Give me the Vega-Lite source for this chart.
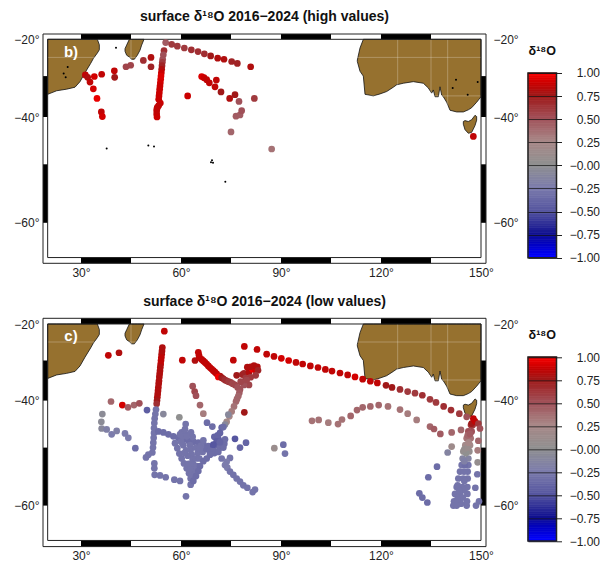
{"$schema":"https://vega.github.io/schema/vega-lite/v6.json","padding":{"left":13,"top":10,"right":0,"bottom":0},"background":"white","config":{"view":{"stroke":null},"font":"Liberation Sans"},
"datasets":{
"land":[
{"name":"af","lon":20,"lat":-34.6,"lat2":-20},{"name":"af","lon":22.7,"lat":-33.7,"lat2":-20},{"name":"af","lon":25.7,"lat":-33.3,"lat2":-20},{"name":"af","lon":28.2,"lat":-32.8,"lat2":-20},{"name":"af","lon":29.7,"lat":-31.4,"lat2":-20},{"name":"af","lon":31.2,"lat":-29.1,"lat2":-20},{"name":"af","lon":32.9,"lat":-26.6,"lat2":-20},{"name":"af","lon":33.7,"lat":-25.3,"lat2":-20},{"name":"af","lon":34.9,"lat":-23.8,"lat2":-20},{"name":"af","lon":35.5,"lat":-22.9,"lat2":-21.5},
{"name":"mg","lon":43.2,"lat":-23.3,"lat2":-22.6},{"name":"mg","lon":43.7,"lat":-24.4,"lat2":-21.6},{"name":"mg","lon":44.5,"lat":-24.9,"lat2":-20},{"name":"mg","lon":45.2,"lat":-25.5,"lat2":-20},{"name":"mg","lon":46,"lat":-25.5,"lat2":-20},{"name":"mg","lon":46.9,"lat":-24.4,"lat2":-20},{"name":"mg","lon":47.7,"lat":-23,"lat2":-20},{"name":"mg","lon":48.2,"lat":-21.6,"lat2":-20},{"name":"mg","lon":48.9,"lat":-20,"lat2":-20},
{"name":"au","lon":112.9,"lat":-26.1,"lat2":-25.7},{"name":"au","lon":113.7,"lat":-28.7,"lat2":-22.4},{"name":"au","lon":114.7,"lat":-30,"lat2":-20},{"name":"au","lon":115.2,"lat":-34.6,"lat2":-20},{"name":"au","lon":117.7,"lat":-35,"lat2":-20},{"name":"au","lon":119.7,"lat":-34.5,"lat2":-20},{"name":"au","lon":121.7,"lat":-33.9,"lat2":-20},{"name":"au","lon":123.7,"lat":-32.8,"lat2":-20},{"name":"au","lon":124.7,"lat":-32.2,"lat2":-20},{"name":"au","lon":126.7,"lat":-31.8,"lat2":-20},{"name":"au","lon":129.7,"lat":-31.4,"lat2":-20},{"name":"au","lon":132.7,"lat":-31.8,"lat2":-20},{"name":"au","lon":134.2,"lat":-33,"lat2":-20},{"name":"au","lon":135.2,"lat":-34.3,"lat2":-20},{"name":"au","lon":135.7,"lat":-33.5,"lat2":-20},{"name":"au","lon":136.2,"lat":-35.2,"lat2":-20},{"name":"au","lon":137.2,"lat":-35.2,"lat2":-20},{"name":"au","lon":137.7,"lat":-32.7,"lat2":-20},{"name":"au","lon":138.2,"lat":-34.8,"lat2":-20},{"name":"au","lon":138.7,"lat":-35.2,"lat2":-20},{"name":"au","lon":139.7,"lat":-36.5,"lat2":-20},{"name":"au","lon":140.7,"lat":-38.4,"lat2":-20},{"name":"au","lon":142.7,"lat":-38.8,"lat2":-20},{"name":"au","lon":144.7,"lat":-38.8,"lat2":-20},{"name":"au","lon":146.2,"lat":-38.3,"lat2":-20},{"name":"au","lon":147.2,"lat":-37.8,"lat2":-20},{"name":"au","lon":148.7,"lat":-36.5,"lat2":-20},{"name":"au","lon":150,"lat":-35.2,"lat2":-20},
{"name":"ta","lon":144.7,"lat":-41.6,"lat2":-41},{"name":"ta","lon":145.2,"lat":-42.8,"lat2":-40.8},{"name":"ta","lon":146.2,"lat":-43.6,"lat2":-41},{"name":"ta","lon":147.2,"lat":-43.4,"lat2":-40.6},{"name":"ta","lon":148.2,"lat":-41.9,"lat2":-39.6},{"name":"ta","lon":148.7,"lat":-40.7,"lat2":-39.9}],
"grid":[{"lon":45,"lat":-20,"lon2":45,"lat2":-64.8},{"lon":125,"lat":-20,"lon2":125,"lat2":-64.8},{"lon":135,"lat":-20,"lon2":135,"lat2":-64.8},{"lon":140,"lat":-20,"lon2":140,"lat2":-64.8},{"lon":20,"lat":-25,"lon2":150,"lat2":-25},{"lon":20,"lat":-35,"lon2":150,"lat2":-35}],
"bands":[{"lon":30,"lon2":45,"lat":-20,"lat2":-18.5},{"lon":60,"lon2":75,"lat":-20,"lat2":-18.5},{"lon":90,"lon2":105,"lat":-20,"lat2":-18.5},{"lon":120,"lon2":135,"lat":-20,"lat2":-18.5},{"lon":30,"lon2":45,"lat":-65.6,"lat2":-64.8},{"lon":60,"lon2":75,"lat":-65.6,"lat2":-64.8},{"lon":90,"lon2":105,"lat":-65.6,"lat2":-64.8},{"lon":120,"lon2":135,"lat":-65.6,"lat2":-64.8},{"lon":18.6,"lon2":20,"lat":-30,"lat2":-40},{"lon":18.6,"lon2":20,"lat":-50,"lat2":-60},{"lon":150,"lon2":151.5,"lat":-30,"lat2":-40},{"lon":150,"lon2":151.5,"lat":-50,"lat2":-60}],
"frames":[{"lon":20,"lon2":150,"lat":-64.8,"lat2":-20},{"lon":18.6,"lon2":151.5,"lat":-65.6,"lat2":-18.5}],
"isles":[{"lon":37.7,"lat":-46.8},{"lon":50.2,"lat":-46.2},{"lon":51.9,"lat":-46.4},{"lon":73.3,"lat":-53.2},{"lon":40.5,"lat":-22.3},{"lon":26,"lat":-27.6},{"lon":24.8,"lat":-29.3},{"lon":25.4,"lat":-30.3},{"lon":69.3,"lat":-49.2},{"lon":69.0,"lat":-49.6},{"lon":69.6,"lat":-49.7},{"lon":142.5,"lat":-30.9},{"lon":141.5,"lat":-33},{"lon":146,"lat":-34.7},{"lon":149,"lat":-31.5}],
"high":[
{"lon":55.4,"lat":-20.9,"d":0.45},{"lon":57.2,"lat":-21.4,"d":0.6},{"lon":58.9,"lat":-21.9,"d":0.6},{"lon":61,"lat":-22.4,"d":0.6},{"lon":63.1,"lat":-22.9,"d":0.65},{"lon":65.1,"lat":-23.4,"d":0.65},{"lon":67,"lat":-24,"d":0.65},{"lon":68.9,"lat":-24.6,"d":0.75},{"lon":71,"lat":-25.2,"d":0.8},{"lon":72.9,"lat":-25.5,"d":0.8},{"lon":75.2,"lat":-26.1,"d":0.7},{"lon":76.9,"lat":-26.6,"d":0.7},{"lon":80.9,"lat":-27.5,"d":0.8},
{"lon":31.3,"lat":-29.7,"d":0.85},{"lon":32,"lat":-30.3,"d":0.8},{"lon":32.7,"lat":-31.5,"d":0.85},{"lon":34,"lat":-30.1,"d":0.9},{"lon":36.2,"lat":-29.5,"d":0.85},{"lon":40,"lat":-28.6,"d":0.85},{"lon":40.1,"lat":-30.3,"d":0.75},{"lon":33.7,"lat":-33.2,"d":0.9},{"lon":34.8,"lat":-35.6,"d":0.95},{"lon":36.1,"lat":-38.8,"d":0.85},{"lon":36.4,"lat":-39.9,"d":0.9},
{"lon":43.5,"lat":-27.5,"d":0.55},{"lon":44.9,"lat":-27.1,"d":0.55},{"lon":48.7,"lat":-25.8,"d":0.65},{"lon":51,"lat":-25,"d":0.8},{"lon":51,"lat":-27.5,"d":0.7},
{"lon":54.9,"lat":-23.1,"d":0.65},{"lon":54.7,"lat":-24.3,"d":0.5},{"lon":54.5,"lat":-25.5,"d":0.5},{"lon":54.4,"lat":-26.3,"d":0.6},{"lon":54.3,"lat":-27.2,"d":0.7},{"lon":54.2,"lat":-28.2,"d":0.8},{"lon":54.1,"lat":-29.1,"d":0.88},{"lon":54,"lat":-30,"d":0.92},{"lon":53.9,"lat":-30.8,"d":0.92},{"lon":53.8,"lat":-31.7,"d":0.9},{"lon":53.7,"lat":-32.5,"d":0.88},{"lon":53.6,"lat":-33.3,"d":0.88},{"lon":53.5,"lat":-34.2,"d":0.88},{"lon":53.4,"lat":-35,"d":0.88},{"lon":53.3,"lat":-35.8,"d":0.88},{"lon":53.8,"lat":-36.7,"d":0.88},{"lon":52.9,"lat":-37.7,"d":0.85},{"lon":52.7,"lat":-38.5,"d":0.85},{"lon":52.7,"lat":-39.3,"d":0.85},{"lon":52.8,"lat":-40,"d":0.88},{"lon":53.3,"lat":-37.3,"d":0.85},{"lon":52.8,"lat":-38,"d":0.85},
{"lon":62,"lat":-35,"d":0.88},{"lon":66.2,"lat":-30.1,"d":0.92},{"lon":66.9,"lat":-30.4,"d":0.88},{"lon":67.7,"lat":-30.9,"d":0.85},{"lon":68.5,"lat":-31.7,"d":0.85},{"lon":70.6,"lat":-31,"d":0.85},{"lon":70.2,"lat":-32.7,"d":0.85},{"lon":72,"lat":-34,"d":0.75},{"lon":74.6,"lat":-35.6,"d":0.8},{"lon":76.2,"lat":-34.7,"d":0.75},{"lon":82,"lat":-35.6,"d":0.6},{"lon":75,"lat":-43.3,"d":0.4},{"lon":87.2,"lat":-46.9,"d":0.35},{"lon":77.4,"lat":-36.3,"d":0.5},{"lon":76.5,"lat":-39.8,"d":0.45},{"lon":77.7,"lat":-39.5,"d":0.45},{"lon":78.2,"lat":-38.5,"d":0.5},{"lon":147.7,"lat":-44.3,"d":0.85}],
"low":[
{"lon":55,"lat":-22,"d":0.85},{"lon":38.2,"lat":-28.6,"d":0.85},{"lon":41.4,"lat":-27.9,"d":0.8},
{"lon":54.4,"lat":-26.5,"d":0.8},{"lon":54.3,"lat":-27.4,"d":0.8},{"lon":54.2,"lat":-28.3,"d":0.8},{"lon":54.1,"lat":-29.2,"d":0.85},{"lon":54,"lat":-30,"d":0.85},{"lon":53.9,"lat":-30.9,"d":0.85},{"lon":53.8,"lat":-31.7,"d":0.8},{"lon":53.7,"lat":-32.6,"d":0.8},{"lon":53.6,"lat":-33.4,"d":0.8},{"lon":53.5,"lat":-34.2,"d":0.8},{"lon":53.4,"lat":-35.2,"d":0.8},{"lon":53.3,"lat":-35.9,"d":0.8},{"lon":53.2,"lat":-36.8,"d":0.8},{"lon":53.1,"lat":-37.6,"d":0.8},{"lon":53,"lat":-38.4,"d":0.8},{"lon":52.9,"lat":-39.2,"d":0.8},{"lon":52.8,"lat":-40,"d":0.75},{"lon":52.7,"lat":-40.7,"d":0.65},
{"lon":52.5,"lat":-42,"d":-0.3},{"lon":52.3,"lat":-43,"d":-0.3},{"lon":52.1,"lat":-44,"d":-0.3},{"lon":52,"lat":-45,"d":-0.3},{"lon":51.9,"lat":-46,"d":-0.3},{"lon":51.9,"lat":-47,"d":-0.3},{"lon":51.8,"lat":-48,"d":-0.3},{"lon":51.7,"lat":-49,"d":-0.3},{"lon":51.6,"lat":-50,"d":-0.3},{"lon":51.4,"lat":-50.9,"d":-0.3},{"lon":50.2,"lat":-51.3,"d":-0.3},{"lon":49.5,"lat":-51.8,"d":-0.3},{"lon":52,"lat":-52.9,"d":-0.3},{"lon":52,"lat":-53.8,"d":-0.3},{"lon":52.1,"lat":-55,"d":-0.3},{"lon":53.7,"lat":-55.1,"d":-0.3},{"lon":55.4,"lat":-55.4,"d":-0.3},{"lon":58,"lat":-55.8,"d":-0.3},{"lon":59.7,"lat":-56,"d":-0.3},{"lon":62.9,"lat":-56.6,"d":-0.3},{"lon":61.5,"lat":-58.5,"d":-0.3},
{"lon":53.2,"lat":-46.7,"d":-0.35},{"lon":54.7,"lat":-46.9,"d":-0.35},{"lon":56.2,"lat":-47.3,"d":-0.35},{"lon":57.7,"lat":-47.7,"d":-0.35},{"lon":59.2,"lat":-48,"d":-0.35},{"lon":60.7,"lat":-48.3,"d":-0.35},{"lon":62.2,"lat":-48.6,"d":-0.35},{"lon":63.7,"lat":-48.8,"d":-0.35},{"lon":65.2,"lat":-49,"d":-0.35},{"lon":66.7,"lat":-49.3,"d":-0.35},{"lon":68.2,"lat":-49.7,"d":-0.35},{"lon":69.7,"lat":-49.9,"d":-0.45},
{"lon":58.2,"lat":-49.1,"d":-0.3},{"lon":58.9,"lat":-50.1,"d":-0.3},{"lon":59.5,"lat":-51.1,"d":-0.3},{"lon":60.2,"lat":-52,"d":-0.3},{"lon":60.9,"lat":-52.9,"d":-0.3},{"lon":61.7,"lat":-53.8,"d":-0.3},{"lon":62.4,"lat":-54.7,"d":-0.3},{"lon":62.9,"lat":-55.6,"d":-0.3},
{"lon":62.7,"lat":-49.5,"d":-0.3},{"lon":62.9,"lat":-50.4,"d":-0.3},{"lon":63.2,"lat":-51.3,"d":-0.3},{"lon":63.5,"lat":-52.2,"d":-0.3},{"lon":63.7,"lat":-53.1,"d":-0.3},{"lon":63.9,"lat":-54,"d":-0.3},
{"lon":60.7,"lat":-49.5,"d":-0.3},{"lon":61.5,"lat":-50.5,"d":-0.3},{"lon":62,"lat":-51.5,"d":-0.3},{"lon":61,"lat":-51,"d":-0.3},{"lon":60,"lat":-48.8,"d":-0.3},{"lon":64.5,"lat":-50,"d":-0.3},{"lon":65,"lat":-51,"d":-0.3},{"lon":64.5,"lat":-52,"d":-0.3},{"lon":65.5,"lat":-52,"d":-0.3},{"lon":66.5,"lat":-50.8,"d":-0.3},{"lon":67.5,"lat":-50.2,"d":-0.35},{"lon":68.5,"lat":-50.6,"d":-0.35},{"lon":70,"lat":-51,"d":-0.35},{"lon":62.3,"lat":-53,"d":-0.3},{"lon":62.8,"lat":-54,"d":-0.3},{"lon":63,"lat":-55,"d":-0.3},{"lon":64,"lat":-55,"d":-0.3},{"lon":64.7,"lat":-53.4,"d":-0.3},{"lon":61,"lat":-46.8,"d":-0.3},{"lon":62,"lat":-47.4,"d":-0.3},{"lon":63.5,"lat":-47.8,"d":-0.3},{"lon":66,"lat":-49.6,"d":-0.3},{"lon":70,"lat":-47.8,"d":-0.4},{"lon":71,"lat":-47.5,"d":-0.4},{"lon":72,"lat":-48.8,"d":-0.4},{"lon":73,"lat":-49.2,"d":-0.35},
{"lon":72.2,"lat":-45.9,"d":-0.4},{"lon":71.7,"lat":-47,"d":-0.4},{"lon":71.2,"lat":-48.2,"d":-0.4},{"lon":70.7,"lat":-49.5,"d":-0.4},{"lon":69.7,"lat":-50.4,"d":-0.35},{"lon":68.7,"lat":-51.3,"d":-0.35},{"lon":67.7,"lat":-52,"d":-0.35},{"lon":66.7,"lat":-52.5,"d":-0.35},{"lon":65.7,"lat":-53.4,"d":-0.35},{"lon":65.2,"lat":-54.3,"d":-0.35},{"lon":64.5,"lat":-55.2,"d":-0.35},{"lon":63.7,"lat":-56,"d":-0.35},
{"lon":60.2,"lat":-46.9,"d":-0.3},{"lon":61.2,"lat":-46.2,"d":-0.3},{"lon":63,"lat":-46.9,"d":-0.3},{"lon":59.7,"lat":-47.3,"d":-0.3},{"lon":60.5,"lat":-47.7,"d":-0.3},{"lon":61.7,"lat":-47.7,"d":-0.3},{"lon":65.7,"lat":-50.1,"d":-0.3},{"lon":66.7,"lat":-48.5,"d":-0.3},{"lon":71.7,"lat":-50,"d":-0.35},{"lon":72.7,"lat":-50,"d":-0.35},{"lon":73.2,"lat":-48.3,"d":-0.35},{"lon":70.7,"lat":-48.7,"d":-0.45},{"lon":69.7,"lat":-49.4,"d":-0.5},{"lon":71.7,"lat":-48.9,"d":-0.4},{"lon":71.2,"lat":-50.8,"d":-0.35},
{"lon":72.2,"lat":-52,"d":-0.3},{"lon":74.7,"lat":-51.9,"d":-0.3},{"lon":73.7,"lat":-52.6,"d":-0.25},{"lon":73.2,"lat":-53.2,"d":-0.25},{"lon":73.9,"lat":-53.7,"d":-0.25},{"lon":74.7,"lat":-54.4,"d":-0.3},{"lon":75.7,"lat":-55,"d":-0.3},{"lon":76.7,"lat":-55.6,"d":-0.3},{"lon":77.7,"lat":-56.1,"d":-0.3},{"lon":78.7,"lat":-56.7,"d":-0.3},{"lon":79.9,"lat":-57.1,"d":-0.3},{"lon":82.2,"lat":-57.4,"d":-0.3},{"lon":81.5,"lat":-57.8,"d":-0.3},
{"lon":76.2,"lat":-48.2,"d":-0.5},{"lon":77.7,"lat":-50,"d":-0.4},{"lon":79.5,"lat":-49,"d":-0.4},{"lon":90.7,"lat":-49.4,"d":-0.35},{"lon":91.2,"lat":-51.1,"d":-0.3},{"lon":88,"lat":-50.1,"d":0.1},{"lon":79,"lat":-42.6,"d":0.75},
{"lon":49.8,"lat":-42.1,"d":-0.45},{"lon":54.7,"lat":-43,"d":-0.1},{"lon":59.5,"lat":-43.7,"d":0},{"lon":61.4,"lat":-45.2,"d":-0.3},{"lon":67.8,"lat":-44.9,"d":-0.35},{"lon":69.4,"lat":-45.7,"d":-0.35},
{"lon":36.4,"lat":-43,"d":-0.05},{"lon":36.1,"lat":-44.7,"d":-0.05},{"lon":36.2,"lat":-46.1,"d":-0.1},{"lon":37.7,"lat":-46.3,"d":-0.2},{"lon":39.2,"lat":-47.3,"d":-0.25},{"lon":40.7,"lat":-46.6,"d":-0.2},{"lon":43.2,"lat":-47.1,"d":-0.25},{"lon":44.2,"lat":-48,"d":-0.25},{"lon":46.3,"lat":-50.1,"d":-0.35},
{"lon":39,"lat":-40.2,"d":0.4},{"lon":42.4,"lat":-41,"d":0.9},{"lon":44.1,"lat":-41.5,"d":0.45},{"lon":45.9,"lat":-41,"d":0.4},{"lon":47.5,"lat":-40.6,"d":0.5},
{"lon":63.5,"lat":-36.5,"d":0.5},{"lon":64.1,"lat":-37.8,"d":0.55},{"lon":64.5,"lat":-38.8,"d":0.5},{"lon":65.7,"lat":-41,"d":0.4},{"lon":66.7,"lat":-42.9,"d":0.3},
{"lon":60.4,"lat":-29.9,"d":0.85},{"lon":64.2,"lat":-30,"d":0.8},
{"lon":65.2,"lat":-27.8,"d":0.85},{"lon":65.4,"lat":-28.6,"d":0.85},{"lon":65.5,"lat":-29.2,"d":0.85},{"lon":66.2,"lat":-29.7,"d":0.85},{"lon":66.7,"lat":-30.1,"d":0.85},{"lon":67.2,"lat":-30.5,"d":0.85},{"lon":67.7,"lat":-30.9,"d":0.85},{"lon":68.2,"lat":-31.4,"d":0.85},{"lon":68.7,"lat":-31.8,"d":0.85},{"lon":69.2,"lat":-32.2,"d":0.85},{"lon":69.7,"lat":-32.6,"d":0.85},{"lon":70.2,"lat":-33,"d":0.85},{"lon":70.7,"lat":-33.4,"d":0.85},{"lon":71.7,"lat":-34,"d":0.8},{"lon":71.2,"lat":-34.2,"d":0.97},{"lon":72.2,"lat":-34.4,"d":0.75},{"lon":72.7,"lat":-34.7,"d":0.7},{"lon":73.2,"lat":-35,"d":0.65},{"lon":73.7,"lat":-35.2,"d":0.65},{"lon":74.3,"lat":-35.4,"d":0.6},{"lon":74.9,"lat":-35.6,"d":0.6},{"lon":75.5,"lat":-35.9,"d":0.55},{"lon":76.2,"lat":-36.2,"d":0.55},
{"lon":77.7,"lat":-37.3,"d":0.5},{"lon":77,"lat":-36.8,"d":0.5},{"lon":77.5,"lat":-38.1,"d":0.45},{"lon":77.2,"lat":-38.9,"d":0.4},{"lon":76.8,"lat":-39.6,"d":0.4},{"lon":76.5,"lat":-40.2,"d":0.4},{"lon":75.9,"lat":-41.3,"d":0.35},{"lon":75.2,"lat":-42.4,"d":0.3},{"lon":74.5,"lat":-43.5,"d":0.25},{"lon":74.2,"lat":-43.1,"d":-0.1},{"lon":73.7,"lat":-44.7,"d":0.2},{"lon":73.2,"lat":-45.3,"d":-0.1},{"lon":72.7,"lat":-45.8,"d":-0.35},
{"lon":79,"lat":-26.2,"d":0.85},{"lon":82.8,"lat":-27,"d":0.85},{"lon":75.7,"lat":-29.9,"d":0.85},{"lon":76.7,"lat":-33.8,"d":0.75},{"lon":78.4,"lat":-33.6,"d":0.7},{"lon":78.9,"lat":-33.3,"d":0.7},{"lon":79.4,"lat":-34.5,"d":0.6},{"lon":80.4,"lat":-33,"d":0.8},{"lon":79.9,"lat":-31.7,"d":0.8},{"lon":81.4,"lat":-32.2,"d":0.97},{"lon":82.4,"lat":-32.5,"d":0.9},{"lon":82.9,"lat":-31.6,"d":0.8},{"lon":81.9,"lat":-31.3,"d":0.8},{"lon":80.9,"lat":-31.6,"d":0.8},{"lon":83.1,"lat":-32.5,"d":0.7},{"lon":82.4,"lat":-33.8,"d":0.6},{"lon":80.9,"lat":-34.3,"d":0.6},{"lon":80.4,"lat":-36.2,"d":0.55},{"lon":78.9,"lat":-36.2,"d":0.5},{"lon":77.9,"lat":-35.4,"d":0.55},{"lon":79.7,"lat":-35,"d":0.55},
{"lon":85.7,"lat":-28.3,"d":0.85},{"lon":87.9,"lat":-28.9,"d":0.85},{"lon":90.1,"lat":-29.4,"d":0.9},{"lon":92.3,"lat":-30,"d":0.9},{"lon":94.5,"lat":-30.5,"d":0.85},{"lon":96.5,"lat":-30.9,"d":0.85},{"lon":98.8,"lat":-31.4,"d":0.85},{"lon":101.1,"lat":-31.8,"d":0.85},{"lon":103.3,"lat":-32.3,"d":0.85},{"lon":105.3,"lat":-32.7,"d":0.85},{"lon":107.7,"lat":-33.2,"d":0.85},{"lon":110,"lat":-33.7,"d":0.85},{"lon":112.2,"lat":-34.2,"d":0.9},{"lon":114.5,"lat":-34.8,"d":0.85},{"lon":116.8,"lat":-35.3,"d":0.85},{"lon":118.9,"lat":-35.7,"d":0.85},{"lon":121.5,"lat":-36.3,"d":0.75},{"lon":123.3,"lat":-36.8,"d":0.75},{"lon":125.7,"lat":-37.3,"d":0.65},{"lon":128,"lat":-37.8,"d":0.6},{"lon":130.2,"lat":-38.2,"d":0.6},{"lon":132.4,"lat":-38.7,"d":0.65},{"lon":134.7,"lat":-39.7,"d":0.6},{"lon":136.5,"lat":-40.4,"d":0.6},{"lon":138.8,"lat":-41.3,"d":0.65},{"lon":141,"lat":-42.1,"d":0.65},{"lon":143.5,"lat":-42.9,"d":0.6},{"lon":145.7,"lat":-43.6,"d":0.5},
{"lon":99.3,"lat":-44.5,"d":0.35},{"lon":101.3,"lat":-44.3,"d":0.35},{"lon":104.2,"lat":-44.9,"d":0.3},{"lon":107.1,"lat":-45.2,"d":0.35},{"lon":108.3,"lat":-44.2,"d":0.35},{"lon":110.9,"lat":-43.4,"d":0.4},{"lon":112.8,"lat":-42.1,"d":0.4},{"lon":114.5,"lat":-41.5,"d":0.4},{"lon":116.8,"lat":-41.3,"d":0.4},{"lon":119.3,"lat":-41,"d":0.4},{"lon":122.1,"lat":-41.3,"d":0.35},{"lon":125.7,"lat":-42,"d":0.35},{"lon":128,"lat":-42.9,"d":0.3},{"lon":130.7,"lat":-44.3,"d":0.3},{"lon":134.7,"lat":-45.7,"d":0.4},{"lon":135.9,"lat":-46.2,"d":0.45},{"lon":137.8,"lat":-47.2,"d":0.45},{"lon":141.2,"lat":-46.9,"d":0.4},{"lon":144,"lat":-46.4,"d":0.4},
{"lon":141.2,"lat":-49.8,"d":0.15},{"lon":140,"lat":-50.9,"d":-0.15},{"lon":136.8,"lat":-53.5,"d":-0.35},{"lon":134.2,"lat":-55.4,"d":-0.35},{"lon":131.5,"lat":-58,"d":-0.35},{"lon":132.4,"lat":-58.7,"d":-0.35},{"lon":133.9,"lat":-59.5,"d":-0.35},
{"lon":149.2,"lat":-48.6,"d":0.4},{"lon":149,"lat":-50.5,"d":0.3},{"lon":149,"lat":-52.7,"d":0.05},{"lon":148.9,"lat":-54.9,"d":-0.3},{"lon":148.3,"lat":-57.1,"d":-0.3},{"lon":149.4,"lat":-59.3,"d":-0.3},{"lon":148.5,"lat":-60,"d":-0.3},
{"lon":145.7,"lat":-60,"d":-0.3},{"lon":145.8,"lat":-59.3,"d":-0.3},{"lon":145.9,"lat":-58.1,"d":-0.3},{"lon":145.9,"lat":-57,"d":-0.3},{"lon":146,"lat":-55.6,"d":-0.3},{"lon":146,"lat":-54.4,"d":-0.3},{"lon":146.2,"lat":-53.2,"d":-0.3},{"lon":146.2,"lat":-52,"d":-0.15},{"lon":146.5,"lat":-50.7,"d":0.05},{"lon":146.7,"lat":-49.5,"d":0.2},{"lon":146.9,"lat":-48.1,"d":0.35},{"lon":147.2,"lat":-46.7,"d":0.5},{"lon":147.5,"lat":-45.4,"d":0.6},
{"lon":141.7,"lat":-60,"d":-0.3},{"lon":141.9,"lat":-59.3,"d":-0.3},{"lon":142.2,"lat":-58.1,"d":-0.3},{"lon":142.7,"lat":-57,"d":-0.3},{"lon":143.2,"lat":-55.6,"d":-0.3},{"lon":143.7,"lat":-54.4,"d":-0.3},{"lon":144.2,"lat":-53.2,"d":-0.3},{"lon":144.5,"lat":-52,"d":-0.15},{"lon":144.7,"lat":-50.7,"d":0.05},{"lon":145.3,"lat":-49.5,"d":0.2},{"lon":145.7,"lat":-48.1,"d":0.35},{"lon":146.2,"lat":-46.7,"d":0.5},{"lon":147,"lat":-45.4,"d":0.6},
{"lon":145.2,"lat":-53.2,"d":-0.35},{"lon":144.9,"lat":-54.4,"d":-0.3},{"lon":144.7,"lat":-55.6,"d":-0.3},{"lon":144.5,"lat":-57,"d":-0.3},{"lon":143.7,"lat":-58.1,"d":-0.3},{"lon":143.5,"lat":-59.3,"d":-0.3},{"lon":142.7,"lat":-60,"d":-0.3},{"lon":143.2,"lat":-58.6,"d":-0.3},
{"lon":145,"lat":-52.5,"d":-0.2},{"lon":145.5,"lat":-51,"d":0},{"lon":145,"lat":-50.3,"d":0.05},{"lon":146,"lat":-50,"d":0.1},{"lon":146.3,"lat":-49,"d":0.25},{"lon":146,"lat":-47.5,"d":0.4},{"lon":146.7,"lat":-47.2,"d":0.45},{"lon":142.5,"lat":-59.7,"d":-0.3},{"lon":144,"lat":-59.7,"d":-0.3},{"lon":144.5,"lat":-58.7,"d":-0.3},{"lon":145,"lat":-57.5,"d":-0.3},{"lon":145,"lat":-56,"d":-0.3},{"lon":143,"lat":-56.7,"d":-0.3},{"lon":143.5,"lat":-57.6,"d":-0.3},{"lon":142.9,"lat":-59,"d":-0.3},
{"lon":147.2,"lat":-45.1,"d":0.75},{"lon":148.2,"lat":-44.6,"d":0.85},{"lon":149.2,"lat":-45.1,"d":0.6},{"lon":149.7,"lat":-46.1,"d":0.5},{"lon":147.7,"lat":-44,"d":0.85}],
"cbar":[{"lo":-1,"hi":-0.975},{"lo":-0.975,"hi":-0.95},{"lo":-0.95,"hi":-0.925},{"lo":-0.925,"hi":-0.9},{"lo":-0.9,"hi":-0.875},{"lo":-0.875,"hi":-0.85},{"lo":-0.85,"hi":-0.825},{"lo":-0.825,"hi":-0.8},{"lo":-0.8,"hi":-0.775},{"lo":-0.775,"hi":-0.75},{"lo":-0.75,"hi":-0.725},{"lo":-0.725,"hi":-0.7},{"lo":-0.7,"hi":-0.675},{"lo":-0.675,"hi":-0.65},{"lo":-0.65,"hi":-0.625},{"lo":-0.625,"hi":-0.6},{"lo":-0.6,"hi":-0.575},{"lo":-0.575,"hi":-0.55},{"lo":-0.55,"hi":-0.525},{"lo":-0.525,"hi":-0.5},{"lo":-0.5,"hi":-0.475},{"lo":-0.475,"hi":-0.45},{"lo":-0.45,"hi":-0.425},{"lo":-0.425,"hi":-0.4},{"lo":-0.4,"hi":-0.375},{"lo":-0.375,"hi":-0.35},{"lo":-0.35,"hi":-0.325},{"lo":-0.325,"hi":-0.3},{"lo":-0.3,"hi":-0.275},{"lo":-0.275,"hi":-0.25},{"lo":-0.25,"hi":-0.225},{"lo":-0.225,"hi":-0.2},{"lo":-0.2,"hi":-0.175},{"lo":-0.175,"hi":-0.15},{"lo":-0.15,"hi":-0.125},{"lo":-0.125,"hi":-0.1},{"lo":-0.1,"hi":-0.075},{"lo":-0.075,"hi":-0.05},{"lo":-0.05,"hi":-0.025},{"lo":-0.025,"hi":0},{"lo":0,"hi":0.025},{"lo":0.025,"hi":0.05},{"lo":0.05,"hi":0.075},{"lo":0.075,"hi":0.1},{"lo":0.1,"hi":0.125},{"lo":0.125,"hi":0.15},{"lo":0.15,"hi":0.175},{"lo":0.175,"hi":0.2},{"lo":0.2,"hi":0.225},{"lo":0.225,"hi":0.25},{"lo":0.25,"hi":0.275},{"lo":0.275,"hi":0.3},{"lo":0.3,"hi":0.325},{"lo":0.325,"hi":0.35},{"lo":0.35,"hi":0.375},{"lo":0.375,"hi":0.4},{"lo":0.4,"hi":0.425},{"lo":0.425,"hi":0.45},{"lo":0.45,"hi":0.475},{"lo":0.475,"hi":0.5},{"lo":0.5,"hi":0.525},{"lo":0.525,"hi":0.55},{"lo":0.55,"hi":0.575},{"lo":0.575,"hi":0.6},{"lo":0.6,"hi":0.625},{"lo":0.625,"hi":0.65},{"lo":0.65,"hi":0.675},{"lo":0.675,"hi":0.7},{"lo":0.7,"hi":0.725},{"lo":0.725,"hi":0.75},{"lo":0.75,"hi":0.775},{"lo":0.775,"hi":0.8},{"lo":0.8,"hi":0.825},{"lo":0.825,"hi":0.85},{"lo":0.85,"hi":0.875},{"lo":0.875,"hi":0.9},{"lo":0.9,"hi":0.925},{"lo":0.925,"hi":0.95},{"lo":0.95,"hi":0.975},{"lo":0.975,"hi":1}]
},
"vconcat":[
{"hconcat":[
{"width":443,"height":229,"title":{"text":"surface δ¹⁸O 2016−2024 (high values)","font":"Liberation Sans","fontSize":14,"fontWeight":"bold","color":"#111","offset":9},
"resolve":{"axis":{"x":"independent","y":"independent"}},
"encoding":{"x":{"field":"lon","type":"quantitative","axis":null,"scale":{"domain":[18.6,151.5],"nice":false,"zero":false}},"y":{"field":"lat","type":"quantitative","axis":null,"scale":{"domain":[-65.6,-65,-60,-55,-50,-45,-40,-35,-30,-25,-20,-18.5],"range":[229.3,225,188.8,157.7,130.3,105.6,83,61.9,42.1,23.4,5.3,0],"nice":false,"zero":false}}},
"layer":[
{"data":{"name":"land"},"mark":{"type":"area","fill":"#96712f","stroke":"#111","strokeWidth":0.8,"clip":true},"encoding":{"y2":{"field":"lat2"},"detail":{"field":"name"},"x":{"field":"lon","type":"quantitative","scale":{"domain":[18.6,151.5],"nice":false,"zero":false},"axis":{"values":[30,60,90,120,150],"labelExpr":"datum.label+'°'","title":null,"domain":false,"ticks":false,"grid":false,"labelPadding":4,"labelFont":"Liberation Sans","labelFontSize":12,"labelColor":"#222"}}}},
{"data":{"name":"grid"},"mark":{"type":"rule","stroke":"#ffffff","strokeOpacity":0.25,"strokeWidth":1},"encoding":{"x2":{"field":"lon2"},"y2":{"field":"lat2"}}},
{"data":{"name":"bands"},"mark":{"type":"rect","fill":"black"},"encoding":{"x2":{"field":"lon2"},"y2":{"field":"lat2"},
"y":{"field":"lat","type":"quantitative","scale":{"domain":[-65.6,-65,-60,-55,-50,-45,-40,-35,-30,-25,-20,-18.5],"range":[229.3,225,188.8,157.7,130.3,105.6,83,61.9,42.1,23.4,5.3,0],"nice":false,"zero":false},"axis":{"orient":"left","values":[-60,-40,-20],"labelExpr":"datum.label+'°'","title":null,"domain":false,"ticks":false,"grid":false,"labelPadding":4,"labelFont":"Liberation Sans","labelFontSize":12,"labelColor":"#222"}}}},
{"data":{"name":"frames"},"mark":{"type":"rect","fill":null,"stroke":"#222","strokeWidth":1},"encoding":{"x2":{"field":"lon2"},"y2":{"field":"lat2"},
"y":{"field":"lat","type":"quantitative","scale":{"domain":[-65.6,-65,-60,-55,-50,-45,-40,-35,-30,-25,-20,-18.5],"range":[229.3,225,188.8,157.7,130.3,105.6,83,61.9,42.1,23.4,5.3,0],"nice":false,"zero":false},"axis":{"orient":"right","values":[-60,-40,-20],"labelExpr":"datum.label+'°'","title":null,"domain":false,"ticks":false,"grid":false,"labelPadding":7,"labelFont":"Liberation Sans","labelFontSize":12,"labelColor":"#222"}}}},
{"data":{"name":"isles"},"mark":{"type":"point","filled":true,"color":"black","size":4,"opacity":1}},
{"data":{"name":"high"},"mark":{"type":"circle","size":45,"opacity":1},"encoding":{"color":{"field":"d","type":"quantitative","legend":null,"scale":{"domain":[-1,-0.875,-0.75,-0.5,-0.25,0,0.25,0.5,0.75,0.875,1],"range":["#0000ff","#0000c8","#101090","#5656a0","#7c7cac","#909090","#a88888","#a05058","#a01818","#c80000","#ff0000"],"interpolate":"rgb"}}}},
{"data":{"values":[{"lon":27,"lat":-23.6,"t":"b)"}]},"mark":{"type":"text","color":"white","fontWeight":"bold","fontSize":15,"font":"Liberation Sans"},"encoding":{"text":{"field":"t"}}}
]},
{"width":28.5,"height":229,"resolve":{"axis":{"y":"independent"}},"encoding":{"x":{"datum":0.5,"type":"quantitative","axis":null,"scale":{"domain":[0,1]}},"y":{"field":"lo","type":"quantitative","scale":{"domain":[-1.057,1.4216],"nice":false,"zero":false},"axis":null}},
"layer":[
{"data":{"name":"cbar"},"mark":{"type":"rect","strokeWidth":0.7},"encoding":{"x":{"datum":0,"type":"quantitative","axis":null,"scale":{"domain":[0,1]}},"x2":{"datum":1},"y2":{"field":"hi"},"y":{"field":"lo","type":"quantitative","scale":{"domain":[-1.057,1.4216],"nice":false,"zero":false},"axis":{"orient":"right","zindex":1,"values":[-1,-0.75,-0.5,-0.25,0,0.25,0.5,0.75,1],"format":".2f","labelExpr":"datum.value==0?'−0.00':datum.label","labelAlign":"right","labelPadding":38,"tickSize":5,"tickColor":"#222","grid":true,"gridColor":"#111","gridOpacity":0.7,"domain":false,"title":null,"labelFont":"Liberation Sans","labelFontSize":12,"labelColor":"#222"}},"color":{"field":"lo","type":"quantitative","legend":null,"scale":{"domain":[-1,-0.875,-0.75,-0.5,-0.25,0,0.25,0.5,0.75,0.875,1],"range":["#0000ff","#0000c8","#101090","#5656a0","#7c7cac","#909090","#a88888","#a05058","#a01818","#c80000","#ff0000"],"interpolate":"rgb"}},"stroke":{"field":"lo","type":"quantitative","legend":null,"scale":{"domain":[-1,-0.875,-0.75,-0.5,-0.25,0,0.25,0.5,0.75,0.875,1],"range":["#0000ff","#0000c8","#101090","#5656a0","#7c7cac","#909090","#a88888","#a05058","#a01818","#c80000","#ff0000"],"interpolate":"rgb"}}}},
{"data":{"values":[{"lo":-1,"hi":1}]},"mark":{"type":"rect","fill":null,"stroke":"#222","strokeWidth":1.5},"encoding":{"x":{"datum":0,"type":"quantitative","axis":null,"scale":{"domain":[0,1]}},"x2":{"datum":1},"y2":{"field":"hi"}}},
{"data":{"values":[{"lo":1.238,"t":"δ¹⁸O"}]},"mark":{"type":"text","fontWeight":"bold","fontSize":12.5,"font":"Liberation Sans","color":"#111"},"encoding":{"text":{"field":"t"}}}
]}
],"spacing":42,"bounds":"flush"},
{"hconcat":[
{"width":443,"height":228,"title":{"text":"surface δ¹⁸O 2016−2024 (low values)","font":"Liberation Sans","fontSize":14,"fontWeight":"bold","color":"#111","offset":9},
"resolve":{"axis":{"x":"independent","y":"independent"}},
"encoding":{"x":{"field":"lon","type":"quantitative","axis":null,"scale":{"domain":[18.6,151.5],"nice":false,"zero":false}},"y":{"field":"lat","type":"quantitative","axis":null,"scale":{"domain":[-65.6,-65,-60,-55,-50,-45,-40,-35,-30,-25,-20,-18.5],"range":[228.3,223.6,187.3,156.5,129.3,104.8,82.3,61.7,42.2,23.7,5.7,0],"nice":false,"zero":false}}},
"layer":[
{"data":{"name":"land"},"mark":{"type":"area","fill":"#96712f","stroke":"#111","strokeWidth":0.8,"clip":true},"encoding":{"y2":{"field":"lat2"},"detail":{"field":"name"},"x":{"field":"lon","type":"quantitative","scale":{"domain":[18.6,151.5],"nice":false,"zero":false},"axis":{"values":[30,60,90,120,150],"labelExpr":"datum.label+'°'","title":null,"domain":false,"ticks":false,"grid":false,"labelPadding":4,"labelFont":"Liberation Sans","labelFontSize":12,"labelColor":"#222"}}}},
{"data":{"name":"grid"},"mark":{"type":"rule","stroke":"#ffffff","strokeOpacity":0.25,"strokeWidth":1},"encoding":{"x2":{"field":"lon2"},"y2":{"field":"lat2"}}},
{"data":{"name":"bands"},"mark":{"type":"rect","fill":"black"},"encoding":{"x2":{"field":"lon2"},"y2":{"field":"lat2"},
"y":{"field":"lat","type":"quantitative","scale":{"domain":[-65.6,-65,-60,-55,-50,-45,-40,-35,-30,-25,-20,-18.5],"range":[228.3,223.6,187.3,156.5,129.3,104.8,82.3,61.7,42.2,23.7,5.7,0],"nice":false,"zero":false},"axis":{"orient":"left","values":[-60,-40,-20],"labelExpr":"datum.label+'°'","title":null,"domain":false,"ticks":false,"grid":false,"labelPadding":4,"labelFont":"Liberation Sans","labelFontSize":12,"labelColor":"#222"}}}},
{"data":{"name":"frames"},"mark":{"type":"rect","fill":null,"stroke":"#222","strokeWidth":1},"encoding":{"x2":{"field":"lon2"},"y2":{"field":"lat2"},
"y":{"field":"lat","type":"quantitative","scale":{"domain":[-65.6,-65,-60,-55,-50,-45,-40,-35,-30,-25,-20,-18.5],"range":[228.3,223.6,187.3,156.5,129.3,104.8,82.3,61.7,42.2,23.7,5.7,0],"nice":false,"zero":false},"axis":{"orient":"right","values":[-60,-40,-20],"labelExpr":"datum.label+'°'","title":null,"domain":false,"ticks":false,"grid":false,"labelPadding":7,"labelFont":"Liberation Sans","labelFontSize":12,"labelColor":"#222"}}}},
{"data":{"name":"low"},"mark":{"type":"circle","size":45,"opacity":1},"encoding":{"color":{"field":"d","type":"quantitative","legend":null,"scale":{"domain":[-1,-0.875,-0.75,-0.5,-0.25,0,0.25,0.5,0.75,0.875,1],"range":["#0000ff","#0000c8","#101090","#5656a0","#7c7cac","#909090","#a88888","#a05058","#a01818","#c80000","#ff0000"],"interpolate":"rgb"}}}},
{"data":{"values":[{"lon":27,"lat":-23.4,"t":"c)"}]},"mark":{"type":"text","color":"white","fontWeight":"bold","fontSize":15,"font":"Liberation Sans"},"encoding":{"text":{"field":"t"}}}
]},
{"width":28.5,"height":228,"resolve":{"axis":{"y":"independent"}},"encoding":{"x":{"datum":0.5,"type":"quantitative","axis":null,"scale":{"domain":[0,1]}},"y":{"field":"lo","type":"quantitative","scale":{"domain":[-1.057,1.4216],"nice":false,"zero":false},"axis":null}},
"layer":[
{"data":{"name":"cbar"},"mark":{"type":"rect","strokeWidth":0.7},"encoding":{"x":{"datum":0,"type":"quantitative","axis":null,"scale":{"domain":[0,1]}},"x2":{"datum":1},"y2":{"field":"hi"},"y":{"field":"lo","type":"quantitative","scale":{"domain":[-1.057,1.4216],"nice":false,"zero":false},"axis":{"orient":"right","zindex":1,"values":[-1,-0.75,-0.5,-0.25,0,0.25,0.5,0.75,1],"format":".2f","labelExpr":"datum.value==0?'−0.00':datum.label","labelAlign":"right","labelPadding":38,"tickSize":5,"tickColor":"#222","grid":true,"gridColor":"#111","gridOpacity":0.7,"domain":false,"title":null,"labelFont":"Liberation Sans","labelFontSize":12,"labelColor":"#222"}},"color":{"field":"lo","type":"quantitative","legend":null,"scale":{"domain":[-1,-0.875,-0.75,-0.5,-0.25,0,0.25,0.5,0.75,0.875,1],"range":["#0000ff","#0000c8","#101090","#5656a0","#7c7cac","#909090","#a88888","#a05058","#a01818","#c80000","#ff0000"],"interpolate":"rgb"}},"stroke":{"field":"lo","type":"quantitative","legend":null,"scale":{"domain":[-1,-0.875,-0.75,-0.5,-0.25,0,0.25,0.5,0.75,0.875,1],"range":["#0000ff","#0000c8","#101090","#5656a0","#7c7cac","#909090","#a88888","#a05058","#a01818","#c80000","#ff0000"],"interpolate":"rgb"}}}},
{"data":{"values":[{"lo":-1,"hi":1}]},"mark":{"type":"rect","fill":null,"stroke":"#222","strokeWidth":1.5},"encoding":{"x":{"datum":0,"type":"quantitative","axis":null,"scale":{"domain":[0,1]}},"x2":{"datum":1},"y2":{"field":"hi"}}},
{"data":{"values":[{"lo":1.238,"t":"δ¹⁸O"}]},"mark":{"type":"text","fontWeight":"bold","fontSize":12.5,"font":"Liberation Sans","color":"#111"},"encoding":{"text":{"field":"t"}}}
]}
],"spacing":42,"bounds":"flush"}
],"spacing":284.3,"bounds":"flush"}
